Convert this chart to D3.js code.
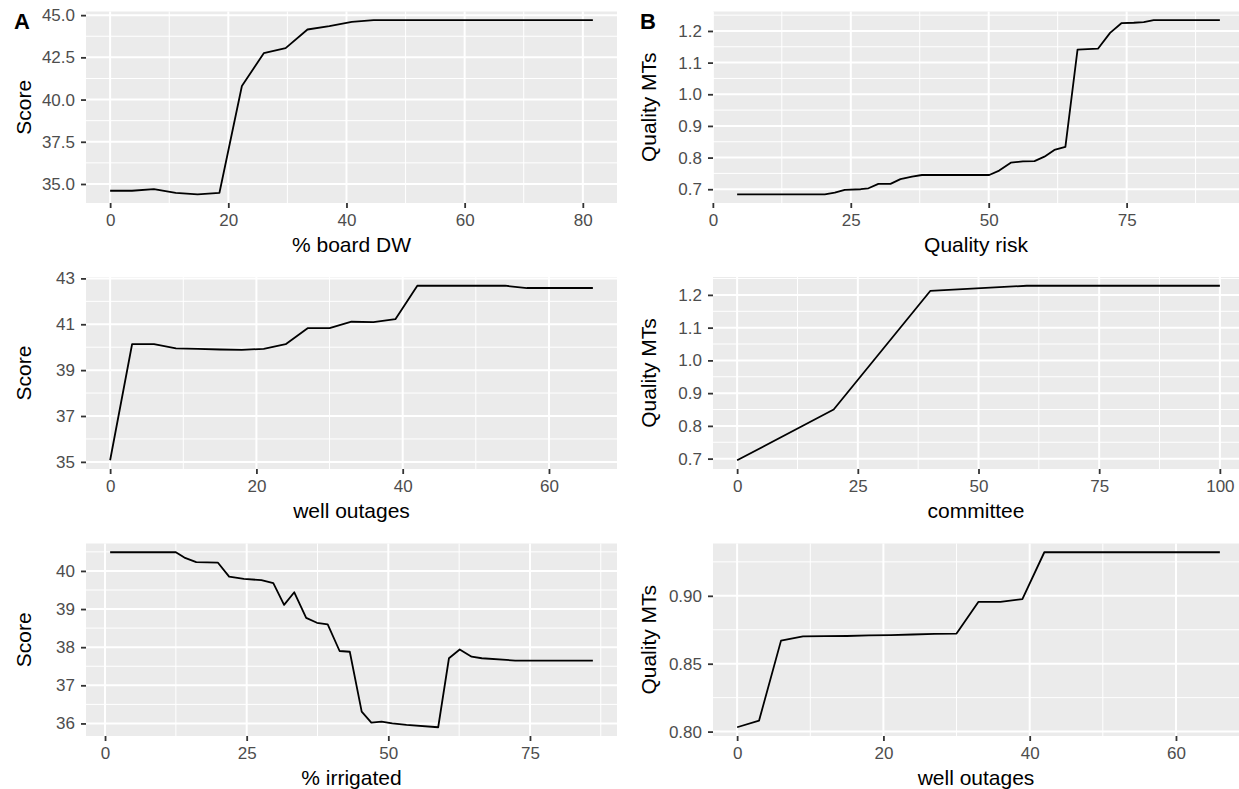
<!DOCTYPE html>
<html>
<head>
<meta charset="utf-8">
<script src="https://cdn.jsdelivr.net/npm/d3@7"></script>
<style>
  body { margin: 0; background: #fff; }
  svg { display: block; font-family: "Liberation Sans", Arial, Helvetica, sans-serif; }
</style>
</head>
<body>
<svg id="fig" width="1239" height="789"></svg>
<script>
// A, top: score vs % board DW
var boardDW    = [0, 3.7, 7.4, 11.1, 14.8, 18.5, 22.3, 26.0, 29.7, 33.4, 37.1, 40.9, 44.6, 48.3, 81.7];
var boardScore = [34.60, 34.60, 34.70, 34.47, 34.39, 34.48, 40.80, 42.75, 43.05, 44.15, 44.35, 44.60, 44.70, 44.70, 44.70];

// A, middle: score vs well outages
var outagesA = [0, 3, 6, 9, 12, 15, 18, 21, 24, 27, 30, 33, 36, 39, 42, 45, 48, 51, 54, 57, 60, 63, 66];
var scoreOut = [35.07, 40.13, 40.13, 39.95, 39.93, 39.90, 39.88, 39.93, 40.13, 40.83, 40.83, 41.11, 41.09, 41.22,
                42.68, 42.68, 42.68, 42.68, 42.68, 42.58, 42.58, 42.58, 42.58];

// A, bottom: score vs % irrigated
var irrigated = [0.9, 12.5, 14.0, 16.1, 19.9, 21.9, 24.5, 27.6, 29.7, 31.6, 33.4, 35.5, 37.4, 39.3, 41.4, 43.2,
                 45.3, 47.0, 48.8, 50.7, 53.2, 58.8, 60.7, 62.6, 64.7, 66.5, 72.4, 86.1];
var scoreIrr  = [40.49, 40.49, 40.35, 40.23, 40.22, 39.85, 39.79, 39.76, 39.68, 39.11, 39.44, 38.77, 38.64, 38.60,
                 37.90, 37.88, 36.31, 36.02, 36.05, 36.00, 35.96, 35.90, 37.71, 37.94, 37.75, 37.71, 37.65, 37.65];

// B, top: quality MTs vs quality risk
var qualRisk = [4.4, 20.3, 22.1, 23.9, 26.8, 28.2, 30.0, 32.2, 34.0, 36.1, 37.9, 50.1, 51.9, 54.0, 56.2, 58.3,
                60.1, 61.9, 63.9, 66.1, 69.8, 72.0, 74.1, 76.3, 78.1, 79.9, 91.9];
var mtsRisk  = [0.684, 0.684, 0.689, 0.698, 0.700, 0.703, 0.717, 0.717, 0.732, 0.740, 0.745, 0.745, 0.759, 0.784,
                0.788, 0.789, 0.803, 0.824, 0.834, 1.141, 1.144, 1.194, 1.225, 1.226, 1.228, 1.234, 1.234];

// B, middle: quality MTs vs committee
var committee = [0, 20, 40, 60, 80, 100];
var mtsComm   = [0.695, 0.850, 1.212, 1.228, 1.228, 1.228];

// B, bottom: quality MTs vs well outages
var outagesB = [0, 3, 6, 9, 12, 15, 18, 21, 24, 27, 30, 33, 36, 39, 42, 45, 48, 51, 54, 57, 60, 63, 66];
var mtsOut   = [0.8032, 0.8081, 0.8670, 0.8702, 0.8703, 0.8704, 0.8708, 0.8710, 0.8715, 0.8720, 0.8722, 0.8956,
                0.8956, 0.8976, 0.9321, 0.9321, 0.9321, 0.9321, 0.9321, 0.9321, 0.9321, 0.9321, 0.9321];

// tick labels
var ticksBoardX = [0, 20, 40, 60, 80],   ticksScoreA = [35, 37.5, 40, 42.5, 45];
var ticksOutX   = [0, 20, 40, 60],       ticksScoreB = [35, 37, 39, 41, 43];
var ticksQuart  = [0, 25, 50, 75],       ticksScoreC = [36, 37, 38, 39, 40];
var ticksComm   = [0, 25, 50, 75, 100],  ticksMTs    = [0.7, 0.8, 0.9, 1.0, 1.1, 1.2];
var ticksMTsOut = [0.80, 0.85, 0.90];

var svg = d3.select("#fig");

// panel boxes (pixels)
var cols = [{x0: 86, x1: 617}, {x0: 713, x1: 1244}];
var rows = [{y0: 11.5, y1: 203}, {y0: 277, y1: 469}, {y0: 543.5, y1: 736}];

// ggplot style 5% expansion of the data range
function expand(vals) {
  var e = d3.extent(vals), pad = (e[1] - e[0]) * 0.05;
  return [e[0] - pad, e[1] + pad];
}

function minorBreaks(major, dom) {
  var step = major[1] - major[0];
  var ext = [major[0] - step].concat(major, [major[major.length - 1] + step]);
  var out = [];
  for (var i = 0; i < ext.length - 1; i++) out.push((ext[i] + ext[i + 1]) / 2);
  return out.filter(function(v) { return v >= dom[0] && v <= dom[1]; });
}

function panel(p) {
  var c = cols[p.col], r = rows[p.row];
  var x = d3.scaleLinear().domain(expand(p.xs)).range([c.x0, c.x1]);
  var y = d3.scaleLinear().domain(expand(p.ys)).range([r.y1, r.y0]);
  var g = svg.append("g");

  g.append("rect")
    .attr("x", c.x0).attr("y", r.y0)
    .attr("width", c.x1 - c.x0).attr("height", r.y1 - r.y0)
    .attr("fill", "#EBEBEB");

  // minor grid
  g.selectAll(".mx").data(minorBreaks(p.xt, x.domain())).enter().append("line")
    .attr("x1", x).attr("x2", x).attr("y1", r.y0).attr("y2", r.y1)
    .attr("stroke", "#fff").attr("stroke-width", 1);
  g.selectAll(".my").data(minorBreaks(p.yt, y.domain())).enter().append("line")
    .attr("y1", y).attr("y2", y).attr("x1", c.x0).attr("x2", c.x1)
    .attr("stroke", "#fff").attr("stroke-width", 1);
  // major grid
  g.selectAll(".gx").data(p.xt).enter().append("line")
    .attr("x1", x).attr("x2", x).attr("y1", r.y0).attr("y2", r.y1)
    .attr("stroke", "#fff").attr("stroke-width", 2);
  g.selectAll(".gy").data(p.yt).enter().append("line")
    .attr("y1", y).attr("y2", y).attr("x1", c.x0).attr("x2", c.x1)
    .attr("stroke", "#fff").attr("stroke-width", 2);

  var pts = p.xs.map(function(v, i) { return [v, p.ys[i]]; });
  g.append("path")
    .datum(pts)
    .attr("fill", "none")
    .attr("stroke", "#000")
    .attr("stroke-width", 1.8)
    .attr("stroke-linejoin", "round")
    .attr("d", d3.line().x(function(d) { return x(d[0]); }).y(function(d) { return y(d[1]); }));

  // axes
  var ax = g.append("g").attr("transform", "translate(0," + r.y1 + ")")
    .call(d3.axisBottom(x).tickValues(p.xt).tickFormat(d3.format("d")).tickSize(5).tickPadding(6));
  var ay = g.append("g").attr("transform", "translate(" + c.x0 + ",0)")
    .call(d3.axisLeft(y).tickValues(p.yt).tickFormat(d3.format(p.yf)).tickSize(5).tickPadding(6));
  [ax, ay].forEach(function(a) {
    a.select(".domain").remove();
    a.selectAll("line").attr("stroke", "#333").attr("stroke-width", 1.8);
    a.selectAll("text").attr("fill", "#4D4D4D").attr("font-size", 17).attr("font-family", null);
  });

  g.append("text")
    .attr("x", (c.x0 + c.x1) / 2 - (p.col === 1 ? 2.5 : 0))
    .attr("y", r.y1 + 49)
    .attr("text-anchor", "middle")
    .attr("font-size", 21)
    .text(p.xl);
  g.append("text")
    .attr("transform", "translate(" + (p.col === 0 ? 31 : 656) + "," + ((r.y0 + r.y1) / 2) + ") rotate(-90)")
    .attr("text-anchor", "middle")
    .attr("font-size", 21)
    .text(p.yl);
}

panel({col: 0, row: 0, xs: boardDW,   ys: boardScore, xt: ticksBoardX, yt: ticksScoreA, yf: ".1f", xl: "% board DW",   yl: "Score"});
panel({col: 0, row: 1, xs: outagesA,  ys: scoreOut,   xt: ticksOutX,   yt: ticksScoreB, yf: "d",   xl: "well outages", yl: "Score"});
panel({col: 0, row: 2, xs: irrigated, ys: scoreIrr,   xt: ticksQuart,  yt: ticksScoreC, yf: "d",   xl: "% irrigated",  yl: "Score"});
panel({col: 1, row: 0, xs: qualRisk,  ys: mtsRisk,    xt: ticksQuart,  yt: ticksMTs,    yf: ".1f", xl: "Quality risk", yl: "Quality MTs"});
panel({col: 1, row: 1, xs: committee, ys: mtsComm,    xt: ticksComm,   yt: ticksMTs,    yf: ".1f", xl: "committee",    yl: "Quality MTs"});
panel({col: 1, row: 2, xs: outagesB,  ys: mtsOut,     xt: ticksOutX,   yt: ticksMTsOut, yf: ".2f", xl: "well outages", yl: "Quality MTs"});

// panel tags
svg.append("text").attr("x", 14).attr("y", 29).attr("font-size", 22).attr("font-weight", "bold").text("A");
svg.append("text").attr("x", 640).attr("y", 29).attr("font-size", 22).attr("font-weight", "bold").text("B");
</script>
</body>
</html>
